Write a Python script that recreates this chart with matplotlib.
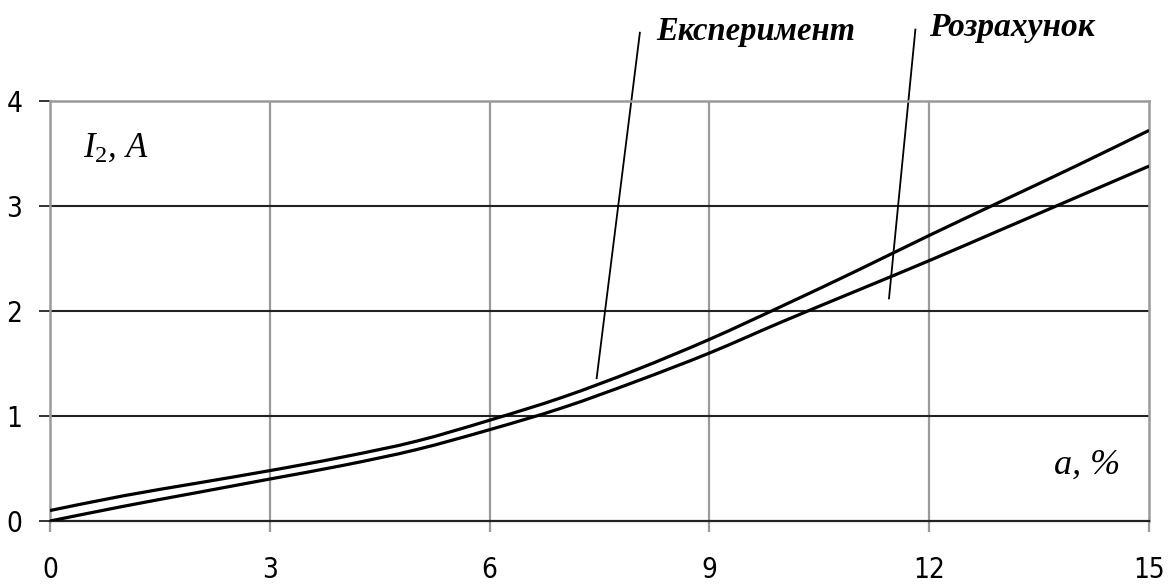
import numpy as np
import matplotlib
matplotlib.use('Agg')
import matplotlib.pyplot as plt
from matplotlib.path import Path
from matplotlib.patches import PathPatch

plt.rcParams['mathtext.fontset'] = 'custom'
plt.rcParams['mathtext.it'] = 'Liberation Serif:italic'
plt.rcParams['mathtext.rm'] = 'Liberation Serif'

# дані
a_pct = [0, 1, 2, 3, 4, 5, 6, 7, 8, 9, 10, 11, 12, 13, 14, 15]
i2_exp = [0.10, 0.24, 0.36, 0.48, 0.61, 0.76, 0.96, 1.18, 1.44, 1.73, 2.05, 2.38, 2.72, 3.05, 3.38, 3.72]
i2_calc = [0.00, 0.14, 0.27, 0.40, 0.53, 0.68, 0.87, 1.08, 1.33, 1.60, 1.90, 2.19, 2.48, 2.78, 3.08, 3.38]
x_ticks = [0, 3, 6, 9, 12, 15]
y_ticks = [0, 1, 2, 3, 4]

tick_font = ['DejaVu Sans']
serif = ['Liberation Serif', 'DejaVu Serif']


def smooth_path(x, y):
    # згладжена лінія як у Excel: кубічні Безьє через точки
    x = np.asarray(x, float); y = np.asarray(y, float)
    verts = [(x[0], y[0])]
    codes = [Path.MOVETO]
    n = len(x)
    for i in range(n - 1):
        x0, y0 = (x[i - 1], y[i - 1]) if i > 0 else (x[i], y[i])
        x3, y3 = (x[i + 2], y[i + 2]) if i < n - 2 else (x[i + 1], y[i + 1])
        c1 = (x[i] + (x[i + 1] - x0) / 6, y[i] + (y[i + 1] - y0) / 6)
        c2 = (x[i + 1] - (x3 - x[i]) / 6, y[i + 1] - (y3 - y[i]) / 6)
        verts += [c1, c2, (x[i + 1], y[i + 1])]
        codes += [Path.CURVE4] * 3
    return Path(verts, codes)


fig = plt.figure(figsize=(11.69, 5.87), dpi=100)
ax = fig.add_axes([0.0428, 0.1124, 0.9402, 0.7156])

grey = '#9a9a9a'
for xv in x_ticks[1:-1]:
    ax.axvline(xv, color=grey, lw=1.6, zorder=1)
for yv in y_ticks[1:-1]:
    ax.axhline(yv, color='#222222', lw=1.5, zorder=1)

for ys in (i2_exp, i2_calc):
    ax.add_patch(PathPatch(smooth_path(a_pct, ys), facecolor='none',
                           edgecolor='black', lw=2.3, zorder=3))

ax.set_xlim(0, 15)
ax.set_ylim(0, 4)
ax.set_xticks(x_ticks)
ax.set_yticks(y_ticks)
ax.tick_params(axis='x', direction='out', length=8, width=1.6, color=grey, pad=17)
ax.tick_params(axis='y', direction='out', length=8, width=1.4, color='#333333', pad=12)
for lab in ax.get_xticklabels() + ax.get_yticklabels():
    lab.set_family(tick_font)
    lab.set_stretch('condensed')
    lab.set_fontsize(20)

for s in ['left', 'top', 'right']:
    ax.spines[s].set_color(grey)
    ax.spines[s].set_linewidth(1.8)
ax.spines['bottom'].set_color('#222222')
ax.spines['bottom'].set_linewidth(1.6)

ax.text(0.45, 3.55, r'$I_2$, $A$', fontsize=25, family=serif, style='italic',
        va='center', ha='left')
ax.text(14.6, 0.53, 'a, %', fontsize=26, family=serif, style='italic',
        va='center', ha='right')

# підписи з виносками
ax.plot([7.46, 8.05], [1.36, 4.65], color='black', lw=1.3, clip_on=False)
ax.plot([11.45, 11.81], [2.12, 4.68], color='black', lw=1.3, clip_on=False)
ax.text(8.27, 4.66, 'Експеримент', fontsize=23.5, family=serif, style='italic',
        weight='bold', va='center', ha='left')
ax.text(12.0, 4.70, 'Розрахунок', fontsize=24, family=serif, style='italic',
        weight='bold', va='center', ha='left')

fig.savefig('out.png', dpi=100)
